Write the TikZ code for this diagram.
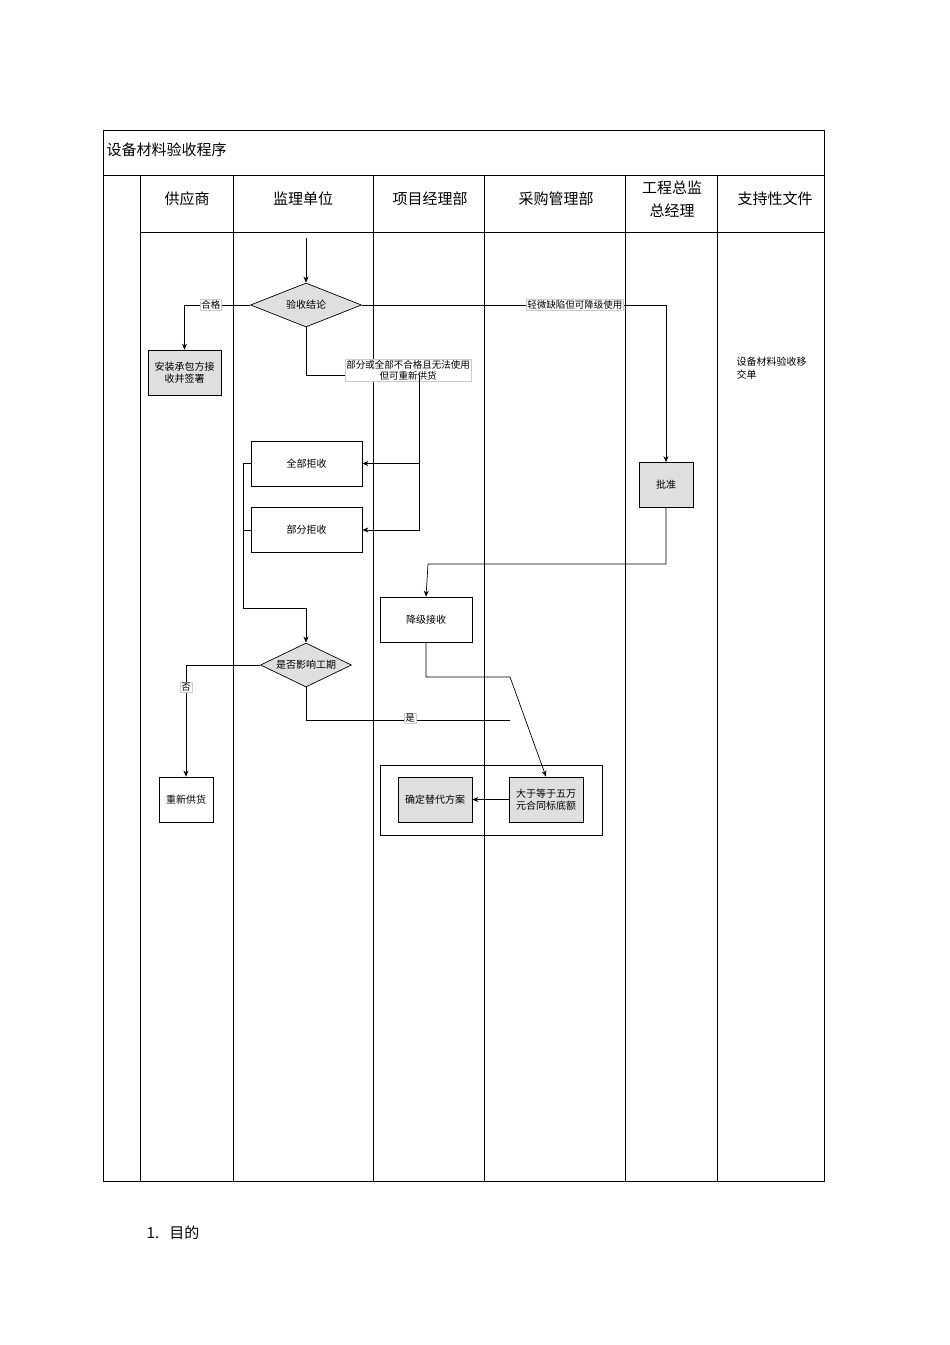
\documentclass[tikz,border=0pt]{standalone}
\usepackage{fontspec}
\setmainfont{Noto Sans CJK SC}
\usetikzlibrary{shapes.geometric,arrows.meta}
\begin{document}
\begin{tikzpicture}[x=1pt,y=-1pt,line width=0.7pt,
  box/.style={draw,minimum width=#1,minimum height=45pt,inner sep=1pt,font=\fontsize{10}{12}\selectfont,align=center},
  gbox/.style={box=#1,fill=gray!25},
  dia/.style={draw,diamond,aspect=2.5,fill=gray!25,inner sep=1pt,font=\fontsize{10}{12}\selectfont},
  lab/.style={fill=white,draw=gray!40,line width=0.3pt,inner sep=1pt,font=\fontsize{9.5}{11}\selectfont,align=center},
  hd/.style={font=\fontsize{15}{18}\selectfont,align=center},
  arr/.style={-{Stealth[length=6pt,width=5pt]}}]
\useasboundingbox (0,0) rectangle (950,1345);
% table
\draw (103,130) rectangle (824,1181);
\draw (103,175) -- (824,175);
\draw (140,232) -- (824,232);
\foreach \x in {140,233,373,484,625,717}{\draw (\x,175) -- (\x,1181);}
\node[hd,anchor=west] (title) at (103,150) {设备材料验收程序};
\node[hd] (h1) at (187,199) {供应商};
\node[hd] (h2) at (303,199) {监理单位};
\node[hd] (h3) at (430,199) {项目经理部};
\node[hd] (h4) at (556,199) {采购管理部};
\node[hd,font=\fontsize{15}{23}\selectfont] (h5) at (672,199) {工程总监\\总经理};
\node[hd] (h6) at (775,199) {支持性文件};
% nodes
\coordinate (s) at (306,238);
\node[dia,minimum width=111pt,minimum height=44pt] (d1) at (306,305) {验收结论};
\node[gbox=73pt] (az) at (184.5,372.5) {安装承包方接\\收并签署};
\node[gbox=54pt] (pz) at (666,485) {批准};
\node[box=111pt] (qb) at (306.5,463.5) {全部拒收};
\node[box=111pt] (bf) at (306.5,530) {部分拒收};
\node[box=92pt] (jj) at (426,619.5) {降级接收};
\node[dia,minimum width=91pt,minimum height=44pt] (d2) at (306,665) {是否影响工期};
\node[box=54pt] (cx) at (186,799.5) {重新供货};
\node[draw,minimum width=222pt,minimum height=70pt] (grp) at (491,800) {};
\node[gbox=74pt] (qd) at (435,799.5) {确定替代方案};
\node[gbox=74pt] (dy) at (546,799.5) {大于等于五万\\元合同标底额};
\node[anchor=north west,font=\fontsize{10}{13}\selectfont,align=left] (doc) at (733,353) {设备材料验收移\\交单};
\node[anchor=west,font=\fontsize{15}{18}\selectfont] (mu) at (143,1233) {1.\ \ \ 目的};
% connectors
\draw[arr] (s) -- (d1.north);
\draw[arr] (d1.west) -| (az.north) node[lab,pos=0.3] {合格};
\draw[arr] (d1.east) -| (pz.north) node[lab,pos=0.35] {轻微缺陷但可降级使用};
\coordinate (c1) at (419,375);
\draw (d1.south) |- (c1);
\node[lab] (l1) at (408,370) {部分或全部不合格且无法使用\\但可重新供货};
\draw[arr] (c1) |- (bf.east);
\draw[arr] (c1 |- qb.east) -- (qb.east);
\coordinate (c2) at (243,608);
\draw (qb.west) -- (c2 |- qb.west) -- (c2);
\draw (bf.west) -- (c2 |- bf.west);
\draw[arr] (c2) -| (d2.north);
\draw[arr] (pz.south) |- (428,564) -- (jj.north);
\draw[arr] (jj.south) |- (510,677) -- (dy.north);
\draw (d2.south) |- (510,720);
\node[lab] (l2) at (410,718) {是};
\draw[arr] (d2.west) -| (cx.north) node[lab,pos=0.6] {否};
\draw[arr] (dy.west) -- (qd.east);
\end{tikzpicture}
\end{document}
